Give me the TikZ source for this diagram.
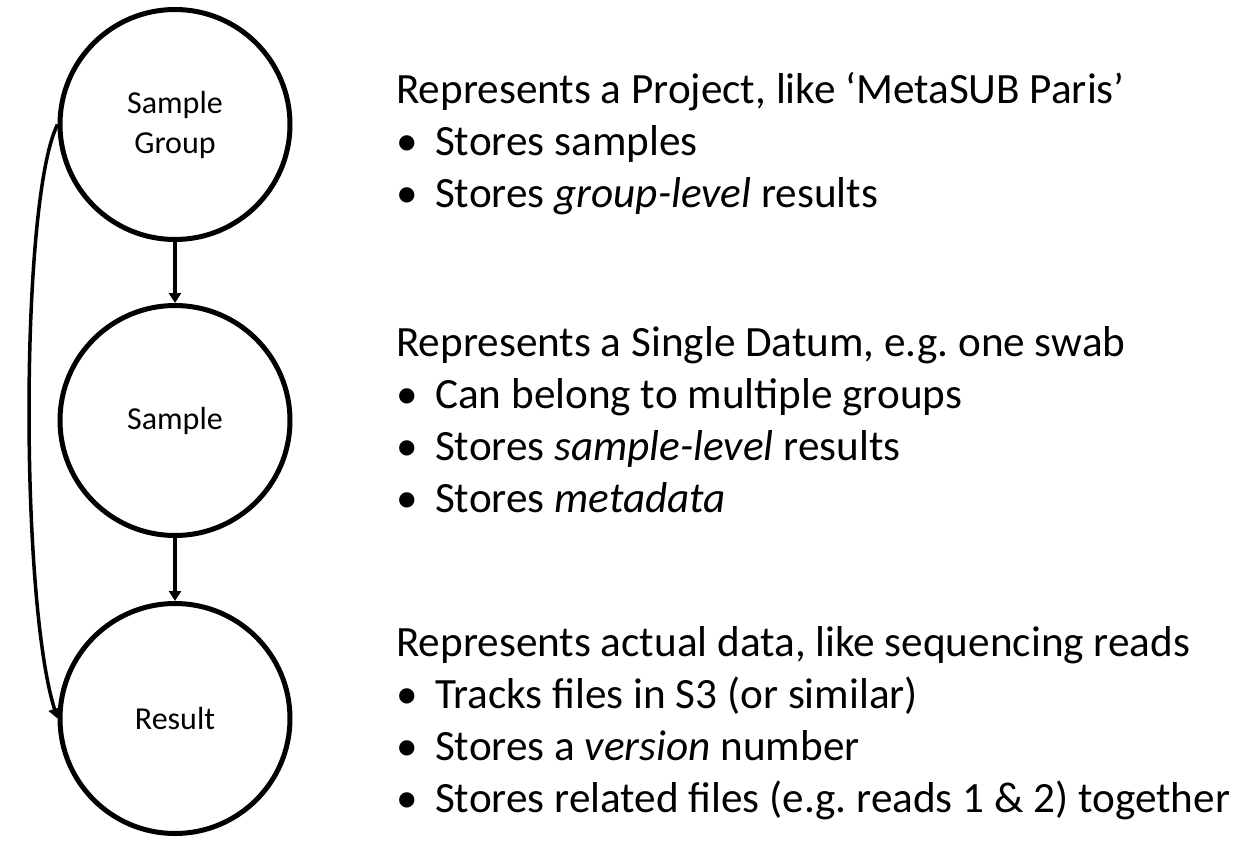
\documentclass[tikz,border=0pt]{standalone}
\usepackage{fontspec}
\setmainfont{Carlito}
\usetikzlibrary{arrows.meta}
\tikzset{
  entity/.style={circle, draw, line width=5pt, minimum size=230pt, inner sep=0pt, align=center, font=\fontsize{32}{40}\selectfont},
  link/.style={line width=3.5pt, -{Triangle[length=10pt,width=12pt]}},
  descline/.style={anchor=base west, inner sep=0pt, font=\fontsize{43.2}{52}\selectfont\frenchspacing},
}
\newcommand{\itm}{\makebox[39pt][l]{\textbullet}}
\begin{document}
\begin{tikzpicture}[x=1pt,y=-1pt]
\useasboundingbox (0,0) rectangle (1240,844);
\node[entity] (sg) at (175,124.5) {Sample\\Group};
\node[entity] (s) at (175,420.5) {Sample};
\node[entity] (r) at (175,718.5) {Result};
\draw[link] (sg.south) -- (s.north);
\draw[link] (s.south) -- (r.north);
\draw[link] (sg.west) .. controls (20,200) and (20,600) .. (r.west);
% block 1
\node[descline] (d1a) at (396,103) {Represents a Project, like ‘MetaSUB Paris’};
\node[descline] (d1b) at (396,155) {\itm Stores samples};
\node[descline] (d1c) at (396,207) {\itm Stores \textit{group-level} results};
% block 2
\node[descline] (d2a) at (396,356.5) {Represents a Single Datum, e.g. one swab};
\node[descline] (d2b) at (396,408.5) {\itm Can belong to multiple groups};
\node[descline] (d2c) at (396,460.5) {\itm Stores \textit{sample-level} results};
\node[descline] (d2d) at (396,512.5) {\itm Stores \textit{metadata}};
% block 3
\node[descline] (d3a) at (396,656.5) {Represents actual data, like sequencing reads};
\node[descline] (d3b) at (396,708.5) {\itm Tracks files in S3 (or similar)};
\node[descline] (d3c) at (396,760.5) {\itm Stores a \textit{version} number};
\node[descline] (d3d) at (396,812.5) {\itm Stores related files (e.g. reads 1 \& 2) together};
\end{tikzpicture}
\end{document}
